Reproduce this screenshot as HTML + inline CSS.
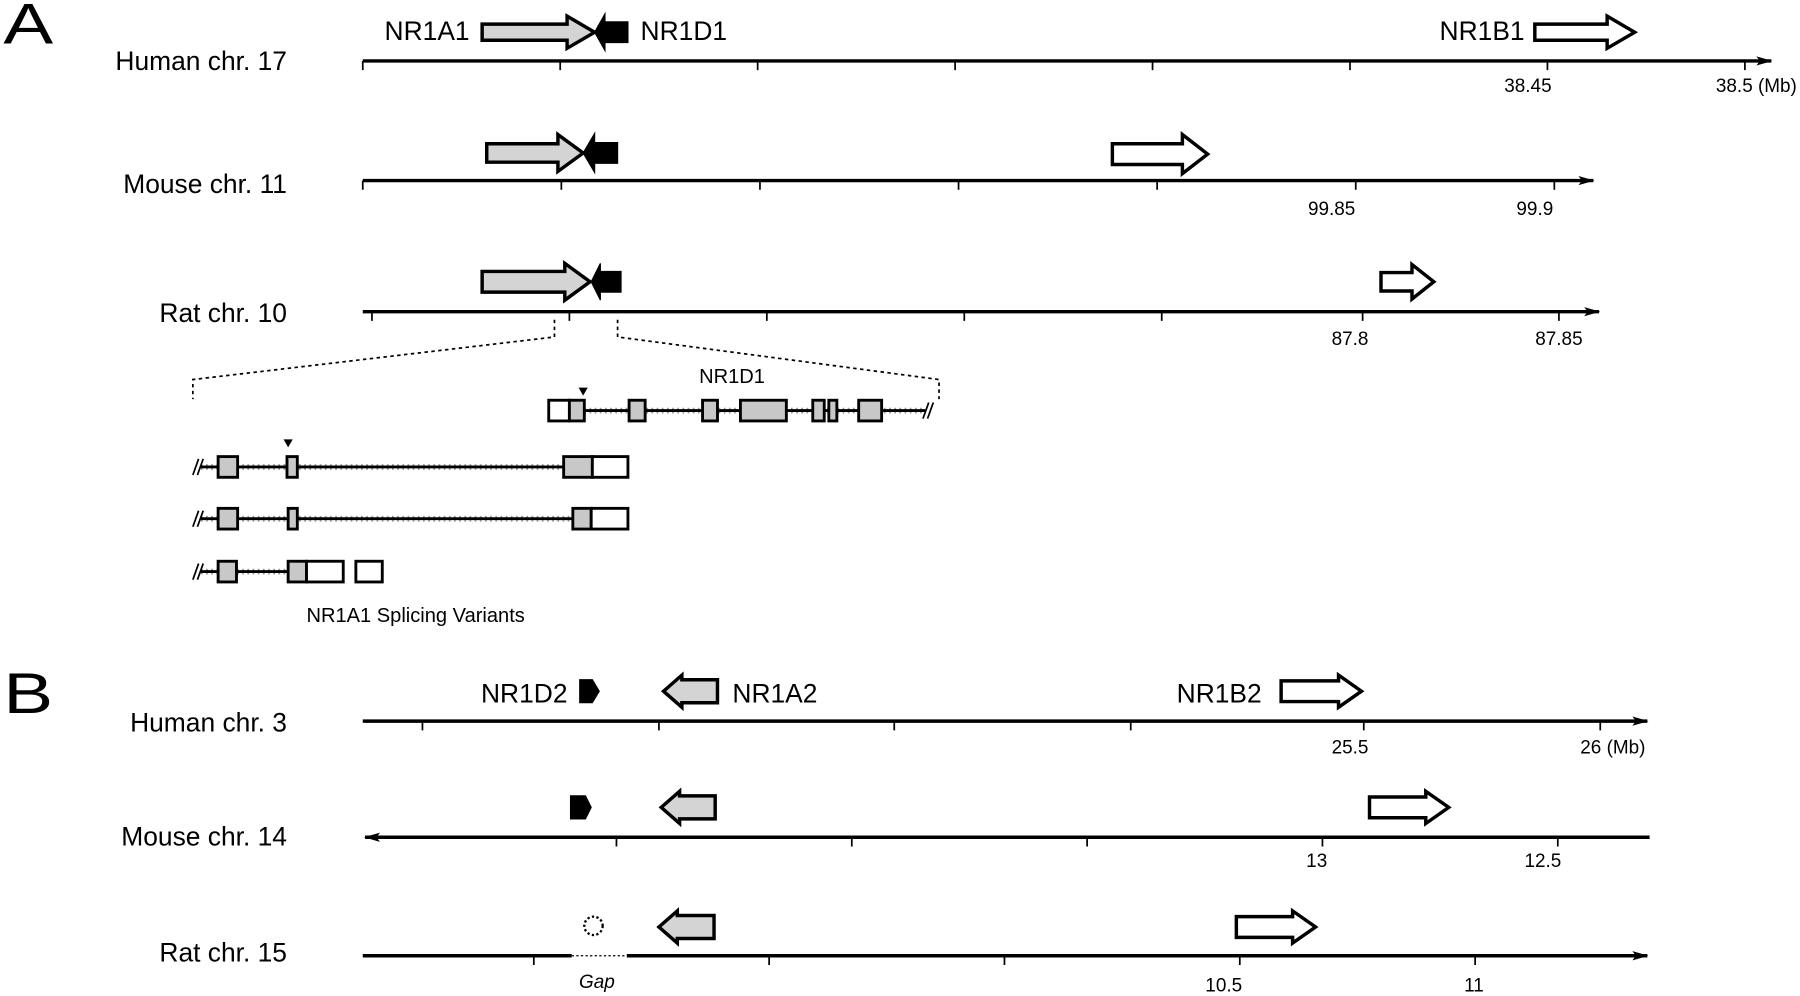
<!DOCTYPE html>
<html><head><meta charset="utf-8"><style>html,body{margin:0;padding:0;background:#fff}svg{display:block}</style></head><body>
<svg width="1800" height="996" viewBox="0 0 1568 866" preserveAspectRatio="none" xmlns="http://www.w3.org/2000/svg" font-family="Liberation Sans, sans-serif">
<defs>
<marker id="ar" markerWidth="14" markerHeight="10" refX="13" refY="5" orient="auto" markerUnits="userSpaceOnUse"><path d="M0,1 L14,5 L0,9 L3,5 Z" fill="#000"/></marker>
<marker id="al" markerWidth="14" markerHeight="10" refX="1" refY="5" orient="auto" markerUnits="userSpaceOnUse"><path d="M14,1 L0,5 L14,9 L11,5 Z" fill="#000"/></marker>
</defs>
<g font-size="50"><text x="3" y="38" transform="translate(3 38) scale(1.3 1) translate(-3 -38)">A</text><text x="3" y="620" transform="translate(3 620) scale(1.3 1) translate(-3 -620)">B</text></g>
<g font-size="23" text-anchor="end">
<text x="250" y="61">Human chr. 17</text><text x="250" y="168">Mouse chr. 11</text><text x="250" y="280">Rat chr. 10</text>
<text x="250" y="636">Human chr. 3</text><text x="250" y="735">Mouse chr. 14</text><text x="250" y="836">Rat chr. 15</text>
</g>
<g stroke="#000" stroke-width="3" fill="none">
<line x1="316" y1="53" x2="1543" y2="53" marker-end="url(#ar)"/>
<line x1="316" y1="157" x2="1388" y2="157" marker-end="url(#ar)"/>
<line x1="316" y1="271" x2="1393" y2="271" marker-end="url(#ar)"/>
<line x1="316" y1="627" x2="1435" y2="627" marker-end="url(#ar)"/>
<line x1="318" y1="728" x2="1437" y2="728" marker-start="url(#al)"/>
<line x1="316" y1="831" x2="498" y2="831"/><line x1="546" y1="831" x2="1435" y2="831" marker-end="url(#ar)"/>
</g>
<line x1="498" y1="831" x2="546" y2="831" stroke="#000" stroke-width="1" stroke-dasharray="2,2"/>
<g stroke="#000" stroke-width="1.5">
<path d="M316 53v8M488 53v8M660 53v8M832 53v8M1004 53v8M1176 53v8M1348 53v8M1520 53v8"/>
<path d="M316 157v8M489 157v8M662 157v8M835 157v8M1008 157v8M1181 157v8M1354 157v8"/>
<path d="M324 271v8M496 271v8M668 271v8M840 271v8M1012 271v8M1187 271v8M1358 271v8"/>
<path d="M368 627v8M574 627v8M779 627v8M985 627v8M1188 627v8M1394 627v8"/>
<path d="M537 728v8M742 728v8M947 728v8M1152 728v8M1357 728v8"/>
<path d="M465 831v8M670 831v8M875 831v8M1080 831v8M1285 831v8"/>
</g>
<g font-size="16.5" text-anchor="middle">
<text x="1331" y="80">38.45</text><text x="1530" y="80">38.5 (Mb)</text>
<text x="1160" y="187">99.85</text><text x="1337" y="187">99.9</text>
<text x="1176" y="300">87.8</text><text x="1358" y="300">87.85</text>
<text x="1176" y="655">25.5</text><text x="1405" y="655">26 (Mb)</text>
<text x="1147" y="754">13</text><text x="1344" y="754">12.5</text>
<text x="1066" y="862">10.5</text><text x="1284" y="862">11</text>
<text x="520" y="859" font-style="italic">Gap</text>
</g>
<g font-size="23">
<text x="335" y="35">NR1A1</text><text x="558" y="35">NR1D1</text><text x="1254" y="35">NR1B1</text>
<text x="419" y="611">NR1D2</text><text x="638" y="611">NR1A2</text><text x="1025" y="611">NR1B2</text>
</g>
<g stroke="#000" stroke-width="3" stroke-linejoin="miter">
<path d="M420 21H494V14L518 28L494 42V35H420Z" fill="#d4d4d4"/>
<path d="M547 19V37H527V44L518 28L527 12V19Z" fill="#000" stroke-width="1"/>
<path d="M1337 21H1400V14L1424 28L1400 42V35H1337Z" fill="#fff"/>
<path d="M424 125H486V117L508 133L486 149V141H424Z" fill="#d4d4d4"/>
<path d="M538 124V142H518V150L508 133L518 116V124Z" fill="#000" stroke-width="1"/>
<path d="M969 125H1030V117L1052 134L1030 151V143H969Z" fill="#fff"/>
<path d="M420 236H492V229L514 245L492 261V254H420Z" fill="#d4d4d4"/>
<path d="M541 236V254H523V261L515 245L523 229V236Z" fill="#000" stroke-width="1"/>
<path d="M1203 237H1230V230L1249 245L1230 260V253H1203Z" fill="#fff"/>
<path d="M505 591H516L522 601L516 611H505Z" fill="#000" stroke-width="1"/>
<path d="M625 591H594V587L578 601L594 615V611H625Z" fill="#d4d4d4"/>
<path d="M1116 592H1166V587L1186 601L1166 615V610H1116Z" fill="#fff"/>
<path d="M497 692H510L515 702L510 712H497Z" fill="#000" stroke-width="1"/>
<path d="M623 692H592V688L576 702L592 716V712H623Z" fill="#d4d4d4"/>
<path d="M1193 693H1242V688L1262 702L1242 716V711H1193Z" fill="#fff"/>
<path d="M622 796H590V792L574 806L590 820V816H622Z" fill="#d4d4d4"/>
<path d="M1077 797H1126V792L1146 806L1126 820V815H1077Z" fill="#fff"/>
</g>
<circle cx="517" cy="805" r="8" fill="none" stroke="#000" stroke-width="2" stroke-dasharray="2,2"/>
<g stroke="#000" stroke-width="1.5" fill="none" stroke-dasharray="3,3">
<path d="M483 278V293L168 330V347"/><path d="M538 278V293L818 330V347"/>
</g>
<g>
<g stroke="#999" stroke-width="5" stroke-dasharray="1.5,3">
<line x1="509" y1="357" x2="806" y2="357"/>
<line x1="175" y1="406" x2="491" y2="406"/>
<line x1="175" y1="451" x2="499" y2="451"/>
<line x1="175" y1="497" x2="251" y2="497"/>
</g>
<g stroke="#000" stroke-width="2.5">
<line x1="509" y1="357" x2="806" y2="357"/>
<line x1="175" y1="406" x2="491" y2="406"/>
<line x1="175" y1="451" x2="499" y2="451"/>
<line x1="175" y1="497" x2="251" y2="497"/>
</g>
<g stroke="#000" stroke-width="1.5">
<path d="M804 364l5-14M808 364l5-14M168 413l5-14M172 413l5-14M168 458l5-14M172 458l5-14M168 504l5-14M172 504l5-14"/>
</g>
<g stroke="#000" stroke-width="2.5" fill="#c8c8c8">
<rect x="478" y="348" width="18" height="18" fill="#fff"/><rect x="496" y="348" width="13" height="18"/>
<rect x="548" y="348" width="14" height="18"/><rect x="612" y="348" width="13" height="18"/>
<rect x="645" y="348" width="40" height="18"/><rect x="708" y="348" width="10" height="18"/>
<rect x="722" y="348" width="7" height="18"/><rect x="748" y="348" width="20" height="18"/>
<rect x="190" y="397" width="17" height="18"/><rect x="250" y="397" width="9" height="18"/>
<rect x="491" y="397" width="25" height="18"/><rect x="516" y="397" width="31" height="18" fill="#fff"/>
<rect x="190" y="442" width="17" height="18"/><rect x="251" y="442" width="8" height="18"/>
<rect x="499" y="442" width="16" height="18"/><rect x="515" y="442" width="32" height="18" fill="#fff"/>
<rect x="190" y="488" width="16" height="18"/><rect x="251" y="488" width="16" height="18"/>
<rect x="267" y="488" width="32" height="18" fill="#fff"/><rect x="310" y="488" width="23" height="18" fill="#fff"/>
</g>
<path d="M504 337h8l-4 7z M247 382h8l-4 7z" fill="#000"/>
<g font-size="17.5"><text x="609" y="333">NR1D1</text><text x="267" y="541">NR1A1 Splicing Variants</text></g>
</g>
</svg>
</body></html>
